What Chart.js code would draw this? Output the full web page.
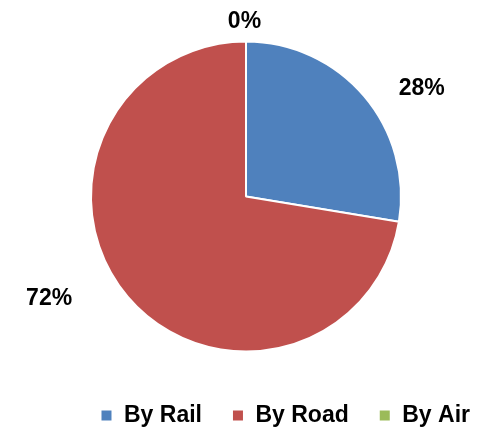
<!DOCTYPE html>
<html>
<head>
<meta charset="utf-8">
<script src="https://cdn.jsdelivr.net/npm/chart.js@4/dist/chart.umd.min.js"></script>
<style>
  html, body { margin: 0; padding: 0; background: #fff; }
  #wrap { width: 481px; height: 431px; }
</style>
</head>
<body>
<div id="wrap"><canvas id="modeshare"></canvas></div>
<script>
var categories = ['By Rail', 'By Road', 'By Air'];
var shares = [27.6, 72.4, 0];
var sliceColors = ['#4F81BD', '#C0504D', '#9BBB59'];

// outside labels: extra angle (deg) and distance past the rim (px), per slice
var labelShift = [8.4, 13.3, -0.5];
var labelGap = [52, 66, 21.5];

var pctLabels = {
    id: 'pctLabels',
    afterDatasetsDraw: function(chart) {
        var ctx = chart.ctx;
        var total = shares.reduce(function(a, b) { return a + b; }, 0);
        var arcs = chart.getDatasetMeta(0).data;
        ctx.save();
        ctx.font = 'bold 23px "Liberation Sans", Arial, sans-serif';
        ctx.fillStyle = '#000';
        ctx.textAlign = 'center';
        ctx.textBaseline = 'middle';
        arcs.forEach(function(arc, i) {
            var p = arc.getProps(['x', 'y', 'startAngle', 'endAngle', 'outerRadius'], true);
            var a = (p.startAngle + p.endAngle) / 2 + labelShift[i] * Math.PI / 180;
            var r = p.outerRadius + labelGap[i];
            var txt = Math.round(shares[i] / total * 100) + '%';
            ctx.fillText(txt, p.x + r * Math.cos(a), p.y + r * Math.sin(a) + 2);
        });
        ctx.restore();
    }
};

var chart1 = document.getElementById('modeshare');
var myChart1 = new Chart(chart1, {
    type: 'pie',
    data: {
        labels: categories,
        datasets: [{
            data: shares,
            backgroundColor: sliceColors,
            borderColor: '#fff',
            borderWidth: 2
        }]
    },
    options: {
        responsive: true,
        maintainAspectRatio: false,
        animation: false,
        radius: 155,
        layout: {
            padding: { top: 19, bottom: -6, left: 11, right: -19 }
        },
        plugins: {
            tooltip: { enabled: false },
            legend: {
                position: 'bottom',
                align: 'end',
                labels: {
                    boxWidth: 12,
                    boxHeight: 12,
                    padding: 30,
                    color: '#000',
                    font: { family: '"Liberation Sans", Arial, sans-serif', size: 23, weight: 'bold' }
                }
            }
        }
    },
    plugins: [pctLabels]
});
</script>
</body>
</html>
